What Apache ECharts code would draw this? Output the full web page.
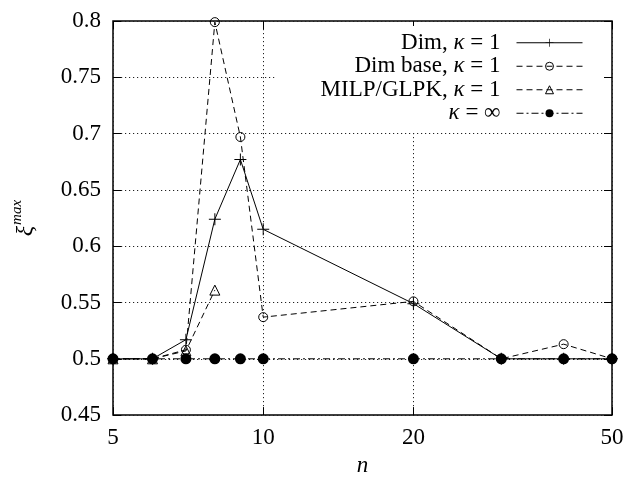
<!DOCTYPE html>
<html>
<head>
<meta charset="utf-8">
<script src="https://cdn.jsdelivr.net/npm/echarts@6/dist/echarts.min.js"></script>
<style>
  html, body { margin: 0; padding: 0; background: #fff; }
  #chart { width: 641px; height: 482px; }
</style>
</head>
<body>
<div id="chart"></div>
<script>
// Problem size n (log-scaled x axis)
const nValues = [5, 6, 7, 8, 9, 10, 20, 30, 40, 50];
const milpN = [5, 6, 7, 8];

// xi^max for each method
const dimK1 = [0.5, 0.5, 0.517, 0.624, 0.677, 0.615, 0.549, 0.5, 0.5, 0.5];
const dimBaseK1 = [0.5, 0.5, 0.508, 0.799, 0.697, 0.537, 0.551, 0.5, 0.513, 0.5];
const milpK1 = [0.5, 0.5, 0.507, 0.561];
const kappaInf = [0.5, 0.5, 0.5, 0.5, 0.5, 0.5, 0.5, 0.5, 0.5, 0.5];

// Axis ticks
const xTicks = [5, 10, 20, 50];
const yMin = 0.45, yMax = 0.8, yStep = 0.05;

const seriesNames = ['Dim, κ = 1', 'Dim base, κ = 1', 'MILP/GLPK, κ = 1', 'κ = ∞'];
const legendRich = {
  'Dim, κ = 1': '{r|Dim, }{i|κ}{r| = 1}',
  'Dim base, κ = 1': '{r|Dim base, }{i|κ}{r| = 1}',
  'MILP/GLPK, κ = 1': '{r|MILP/GLPK, }{i|κ}{r| = 1}',
  'κ = ∞': '{i|κ}{r| = ∞}'
};

const FONT = '"Liberation Serif", "DejaVu Serif", serif';
const BLACK = '#000';

function pairs(xs, ys) { return xs.map((x, i) => [x, ys[i]]); }

const plusSymbol = 'path://M0,5.5H12V6.5H0Z M5.5,0H6.5V12H5.5Z';

const chart = echarts.init(document.getElementById('chart'), null, { renderer: 'canvas' });

const xAxisCommon = {
  type: 'log',
  logBase: 10,
  min: 5,
  max: 50,
  axisLine: { show: false },
  axisTick: { show: true, inside: true, length: 8, customValues: xTicks, lineStyle: { color: BLACK, width: 1 } },
  minorTick: { show: false }
};
const yAxisCommon = {
  type: 'value',
  min: yMin,
  max: yMax,
  interval: yStep,
  axisLine: { show: false },
  axisTick: { show: true, inside: true, length: 8, lineStyle: { color: BLACK, width: 1 } }
};

chart.setOption({
  animation: false,
  backgroundColor: '#fff',
  textStyle: { fontFamily: FONT },
  grid: {
    left: 113, right: 29, top: 21, bottom: 62,
    show: true, borderColor: BLACK, borderWidth: 1.5, backgroundColor: 'transparent'
  },
  xAxis: [
    Object.assign({}, xAxisCommon, {
      position: 'bottom',
      name: 'n',
      nameLocation: 'middle',
      nameGap: 34,
      nameTextStyle: { fontFamily: FONT, fontSize: 23, fontStyle: 'italic', color: BLACK },
      axisLabel: {
        show: true, customValues: xTicks, margin: 11,
        fontFamily: FONT, fontSize: 23, color: BLACK,
        formatter: v => String(Math.round(v))
      },
      splitLine: { show: true, lineStyle: { color: '#222', width: 1, type: [1.2, 2.8] } }
    }),
    Object.assign({}, xAxisCommon, {
      position: 'top',
      axisLabel: { show: false },
      splitLine: { show: false }
    })
  ],
  yAxis: [
    Object.assign({}, yAxisCommon, {
      position: 'left',
      name: '{x|ξ}{s|max}',
      nameLocation: 'middle',
      nameRotate: 90,
      nameGap: 72,
      nameTextStyle: {
        color: BLACK,
        rich: {
          x: { fontFamily: FONT, fontSize: 24, fontStyle: 'italic', color: BLACK },
          s: { fontFamily: FONT, fontSize: 15, fontStyle: 'italic', color: BLACK, padding: [0, 0, 16, 1] }
        }
      },
      axisLabel: {
        margin: 12, fontFamily: FONT, fontSize: 23, color: BLACK,
        formatter: v => String(+v.toFixed(2))
      },
      splitLine: { show: true, lineStyle: { color: '#222', width: 1, type: [1.2, 2.8] } }
    }),
    Object.assign({}, yAxisCommon, {
      position: 'right',
      axisLabel: { show: false },
      splitLine: { show: false }
    })
  ],
  legend: {
    orient: 'vertical',
    right: 38,
    top: 26,
    align: 'right',
    itemWidth: 66,
    itemHeight: 10,
    itemGap: 0,
    padding: [5, 20, 6, 5],
    backgroundColor: '#fff',
    selectedMode: false,
    data: seriesNames,
    formatter: name => legendRich[name],
    lineStyle: { width: 1 },
    itemStyle: { borderWidth: 1 },
    textStyle: {
      color: BLACK,
      fontFamily: FONT,
      fontSize: 23,
      lineHeight: 23.5,
      width: 220,
      align: 'right',
      padding: [0, 11, 0, 0],
      rich: {
        r: { fontFamily: FONT, fontSize: 23, color: BLACK, lineHeight: 23.5, align: 'right' },
        i: { fontFamily: FONT, fontSize: 23, fontStyle: 'italic', color: BLACK, lineHeight: 23.5, align: 'right' }
      }
    }
  },
  series: [
    {
      name: seriesNames[0],
      type: 'line',
      data: pairs(nValues, dimK1),
      symbol: plusSymbol,
      symbolSize: 12,
      itemStyle: { color: BLACK },
      lineStyle: { color: BLACK, width: 1, type: 'solid' },
      z: 3
    },
    {
      name: seriesNames[1],
      type: 'line',
      data: pairs(nValues, dimBaseK1),
      symbol: 'circle',
      symbolSize: 9,
      itemStyle: { color: 'rgba(0,0,0,0)', borderColor: BLACK, borderWidth: 1 },
      lineStyle: { color: BLACK, width: 1, type: [6, 4] },
      z: 3
    },
    {
      name: seriesNames[2],
      type: 'line',
      data: pairs(milpN, milpK1),
      symbol: 'triangle',
      symbolSize: 10,
      itemStyle: { color: 'rgba(0,0,0,0)', borderColor: BLACK, borderWidth: 1 },
      lineStyle: { color: BLACK, width: 1, type: [6, 4] },
      z: 3
    },
    {
      name: seriesNames[3],
      type: 'line',
      data: pairs(nValues, kappaInf),
      symbol: 'circle',
      symbolSize: 11,
      itemStyle: { color: BLACK },
      lineStyle: { color: BLACK, width: 1, type: [7, 3, 2, 3] },
      z: 4
    }
  ]
});
</script>
</body>
</html>
